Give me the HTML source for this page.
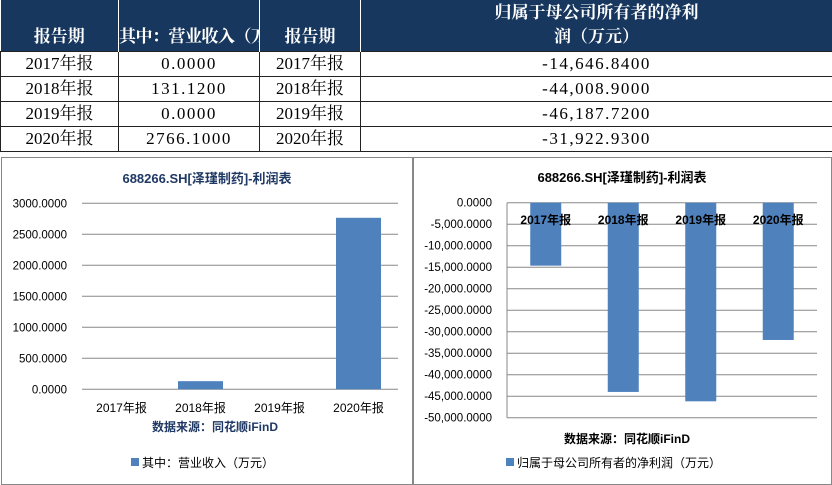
<!DOCTYPE html>
<html><head><meta charset="utf-8"><style>
body{margin:0;width:832px;height:485px;background:#fff;position:relative;overflow:hidden;font-family:"Liberation Sans","Noto Sans CJK SC",sans-serif}
table{position:absolute;left:0;top:0;border-collapse:collapse;table-layout:fixed;width:832px;font-family:"Liberation Serif","Noto Serif CJK SC",serif;font-size:17px;color:#000}
td{border:1px solid #222;text-align:center;padding:0;height:24px;line-height:24px;white-space:nowrap;overflow:hidden}
td.n{letter-spacing:1.5px}
th{background:#17375e;color:#fff;font-weight:bold;height:49px;vertical-align:bottom;padding:0 0 2px 0;font-size:17px;line-height:24px;border-right:1px solid #fff;white-space:nowrap;overflow:hidden}
.box{position:absolute;border:1px solid #888;background:#fff}
svg{position:absolute;left:0;top:0}
</style></head><body>
<table>
<colgroup><col style="width:118px"><col style="width:141px"><col style="width:101px"><col style="width:472px"></colgroup>
<tr><th>报告期</th><th style="letter-spacing:-0.5px">其中：营业收入（万元）</th><th>报告期</th><th>归属于母公司所有者的净利<br>润（万元）</th></tr>
<tr><td>2017年报</td><td class="n">0.0000</td><td>2017年报</td><td class="n">-14,646.8400</td></tr>
<tr><td>2018年报</td><td class="n">131.1200</td><td>2018年报</td><td class="n">-44,008.9000</td></tr>
<tr><td>2019年报</td><td class="n">0.0000</td><td>2019年报</td><td class="n">-46,187.7200</td></tr>
<tr><td>2020年报</td><td class="n">2766.1000</td><td>2020年报</td><td class="n">-31,922.9300</td></tr>
</table>
<div class="box" style="left:1px;top:157px;width:410px;height:326px"></div>
<div class="box" style="left:413px;top:157px;width:417px;height:326px"></div>
<svg id="c" width="832" height="485"></svg>
<script>
const categories=["2017年报","2018年报","2019年报","2020年报"];
const revenueValues=[0,131.12,0,2766.1];
const revenueTicks=[0,500,1000,1500,2000,2500,3000];
const profitValues=[-14646.84,-44008.9,-46187.72,-31922.93];
const profitTicks=[0,-5000,-10000,-15000,-20000,-25000,-30000,-35000,-40000,-45000,-50000];
const NS="http://www.w3.org/2000/svg";
const svg=document.getElementById('c');
function mk(t,a,txt){const e=document.createElementNS(NS,t);for(const k in a)e.setAttribute(k,a[k]);if(txt!==undefined)e.textContent=txt;svg.appendChild(e);return e;}
function fmt(v,comma){let s=Math.abs(v).toFixed(4);if(comma){let [i,d]=s.split('.');i=i.replace(/\B(?=(\d{3})+(?!\d))/g,',');s=i+'.'+d;}return (v<0?'-':'')+s;}
(function(){
const x0=82,x1=398,yTop=203.3,yBot=389.3,max=3000;
const y=v=>yBot-(v/max)*(yBot-yTop);
const cw=(x1-x0)/categories.length;
let e=mk('text',{x:207,y:183,'text-anchor':'middle','font-size':13,'font-weight':'bold',fill:'#1f3864'},'688266.SH[泽瑾制药]-利润表');

revenueTicks.forEach(t=>{
 let l=mk('line',{x1:x0,x2:x1,y1:y(t),y2:y(t),stroke:'#888','stroke-width':1});
 
 let tx=mk('text',{x:67,y:y(t)+4,'text-anchor':'end','font-size':11.5,fill:'#000'},fmt(t,false));
 
});
categories.forEach((c,i)=>{
 const cx=x0+cw*(i+0.5),v=revenueValues[i];
 let r=mk('rect',{x:cx-22.5,y:y(v),width:45,height:yBot-y(v),fill:'#4f81bd'});
 
 let t=mk('text',{x:cx,y:412,'text-anchor':'middle','font-size':12,fill:'#000'},c);
 
});
let s=mk('text',{x:215,y:431,'text-anchor':'middle','font-size':12,'font-weight':'bold',fill:'#1f3864'},'数据来源：同花顺iFinD');

let lr=mk('rect',{x:131,y:458,width:8,height:8,fill:'#4f81bd'});

let lt=mk('text',{x:142,y:467,'font-size':12,fill:'#000'},'其中：营业收入（万元）');

})();
(function(){
const x0=507,x1=817,yTop=202.7,yBot=417.7,min=-50000;
const y=v=>yTop+(v/min)*(yBot-yTop);
const cw=(x1-x0)/categories.length;
let e=mk('text',{x:622,y:182,'text-anchor':'middle','font-size':13,'font-weight':'bold',fill:'#000'},'688266.SH[泽瑾制药]-利润表');

profitTicks.forEach(t=>{
 let l=mk('line',{x1:x0,x2:x1,y1:y(t),y2:y(t),stroke:'#888','stroke-width':1});
 
 let tx=mk('text',{x:492,y:y(t)+4,'text-anchor':'end','font-size':11.5,fill:'#000'},fmt(t,true));
 
});
let ax=mk('line',{x1:x0,x2:x0,y1:yTop,y2:yBot,stroke:'#888','stroke-width':1});

categories.forEach((c,i)=>{
 const cx=x0+cw*(i+0.5),v=profitValues[i];
 let r=mk('rect',{x:cx-15.5,y:yTop,width:31,height:y(v)-yTop,fill:'#4f81bd'});
 
});
categories.forEach((c,i)=>{
 const cx=x0+cw*(i+0.5);
 let t=mk('text',{x:cx,y:224,'text-anchor':'middle','font-size':12,'font-weight':'bold',fill:'#000'},c);
 
});
let s=mk('text',{x:627,y:443,'text-anchor':'middle','font-size':12,'font-weight':'bold',fill:'#000'},'数据来源：同花顺iFinD');

let lr=mk('rect',{x:506,y:458,width:8,height:8,fill:'#4f81bd'});

let lt=mk('text',{x:517,y:467,'font-size':12,fill:'#000'},'归属于母公司所有者的净利润（万元）');

})();
</script>
</body></html>
